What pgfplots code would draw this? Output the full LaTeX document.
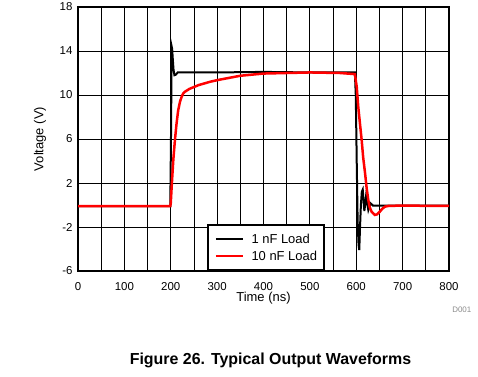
\documentclass[border=0pt]{standalone}
\usepackage{fontspec}
\setmainfont{Liberation Sans}
\usepackage{pgfplots}
\pgfplotsset{compat=1.18}
\begin{document}
\begin{tikzpicture}
\path[use as bounding box] (0bp,0bp) rectangle (478bp,-377bp);
\begin{axis}[
  at={(78bp,-7bp)}, anchor=north west,
  scale only axis, width=371bp, height=264bp,
  xmin=0, xmax=800, ymin=-6, ymax=18,
  xtick={0,100,...,800}, minor xtick={50,150,...,750},
  ytick={-6,-2,...,18},
  grid=both,
  major grid style={black, line width=0.8bp},
  minor grid style={black, line width=0.8bp},
  axis line style={line width=2bp},
  major tick length=0pt, minor tick length=0pt,
  /pgf/number format/assume math mode=true,
  ticklabel style={font=\fontsize{11.5}{13}\selectfont},
  xticklabel style={anchor=center, yshift=-15.7bp},
  yticklabel style={anchor=east, xshift=-2bp},
  xlabel={Time (ns)}, ylabel={Voltage (V)},
  label style={font=\fontsize{13}{15}\selectfont},
  xlabel style={at={(axis description cs:0.5,-0.104)}, anchor=center},
  ylabel style={at={(axis description cs:-0.1024,0.5)}, anchor=center},
  legend cell align=left,
  legend style={at={(axis cs:278,-6)}, anchor=south west, draw=black, line width=2bp,
    fill=white, font=\fontsize{13}{15}\selectfont,
    inner xsep=6.7bp, inner ysep=9.4bp, row sep=8bp,
    nodes={inner sep=0pt, text height=9.3bp, text depth=0pt},
    /tikz/every odd column/.append style={column sep=7.7bp}},
  legend image code/.code={\draw[#1] (0bp,0bp) -- (26.7bp,0bp);},
]
\addplot[black, line width=2bp] coordinates {
(0,-0.1) (100,-0.1) (199,-0.1) (200.5,6) (202,14.4) (203,14.2) (204.5,13.2) (206,12.3)
(208,11.8) (211,11.85) (215,12.05) (230,12.05) (300,12.05) (400,12.1) (500,12.05) (597,12.05)
(599,10) (601,4) (603,-1.5) (605,-3.6) (606.5,-4.1) (608,-2.2) (610,0) (612,1.2) (614,1.4)
(615.5,0.5) (617.5,-0.55) (619,0) (621,0.75) (623,0.3) (626,-0.45) (628.5,-0.1) (631,0.15)
(636,-0.05) (650,-0.05) (700,-0.05) (800,-0.05)};
\addlegendentry{1 nF Load}
\addplot[red, line width=2.5bp] coordinates {
(0,-0.1) (100,-0.1) (199,-0.1) (200,0.15) (202,1.67) (205.5,4.1) (209,5.9) (212.5,7.4)
(216,8.6) (220,9.4) (223.6,9.85) (227,10.15) (230.7,10.3) (240,10.55) (260,10.9)
(284.6,11.2) (300,11.35) (325,11.55) (350,11.75) (375,11.85) (400,11.95) (450,12.0)
(500,12.05) (565,12.0) (597,11.9) (601,10.75) (604.4,8.9) (608,7.4) (611.7,5.9) (615,4.3)
(619,2.9) (622.5,1.5) (626,0.45) (629,-0.2) (633,-0.6) (640,-0.9) (645,-0.85) (651,-0.6)
(656,-0.35) (662,-0.15) (670,-0.08) (694,-0.06) (800,-0.08)};
\addlegendentry{10 nF Load}
\end{axis}
\node[font=\fontsize{8}{9}\selectfont, text=black!45] at (461.8bp,-310bp) {D001};
\node[font=\bfseries\fontsize{16}{18}\selectfont] at (270.5bp,-360.7bp) {Figure 26. Typical Output Waveforms};
\end{tikzpicture}
\end{document}
